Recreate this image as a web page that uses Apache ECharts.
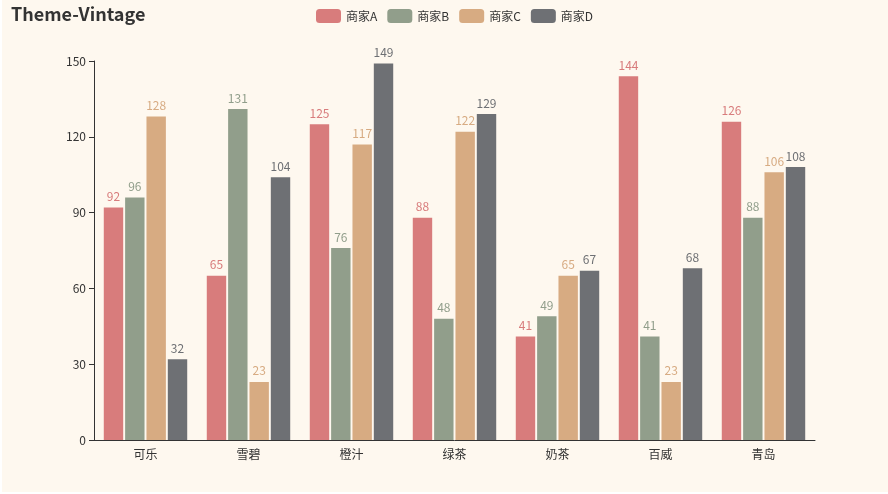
<!DOCTYPE html>
<html><head><meta charset="utf-8">
<script src="https://cdn.jsdelivr.net/npm/echarts@6/dist/echarts.min.js"></script>
<style>html,body{margin:0;padding:0;background:#fff;}#c{position:absolute;left:2px;top:0;width:886px;height:492px;}</style>
</head><body><div id="c"></div>
<script>
var categories = ['可乐','雪碧','橙汁','绿茶','奶茶','百威','青岛'];
var seriesNames = ['商家A','商家B','商家C','商家D'];
var valuesA = [92,65,125,88,41,144,126];
var valuesB = [96,131,76,48,49,41,88];
var valuesC = [128,23,117,122,65,23,106];
var valuesD = [32,104,149,129,67,68,108];
var colors = ['#d87c7c','#919e8b','#d7ab82','#6e7074'];
var allValues = [valuesA,valuesB,valuesC,valuesD];
var font = '"Noto Sans CJK SC","Noto Sans",sans-serif';
var chart = echarts.init(document.getElementById('c'));
chart.setOption({
  backgroundColor:'#fef8ef',
  color: colors,
  textStyle:{fontFamily:font},
  title:{text:'Theme-Vintage',left:4,top:0,textStyle:{fontSize:18,fontWeight:'bold',color:'#333',fontFamily:font}},
  legend:{data:seriesNames,left:309,top:4,itemWidth:25,itemHeight:14,itemGap:10,textStyle:{color:'#333',fontSize:12,fontFamily:font}},
  grid:{left:92,right:73,top:61,bottom:52},
  xAxis:{type:'category',data:categories,axisLine:{lineStyle:{color:'#333'}},axisTick:{lineStyle:{color:'#333'}},axisLabel:{color:'#333',fontSize:12,fontFamily:font}},
  yAxis:{type:'value',min:0,max:150,interval:30,splitLine:{show:false},axisLine:{show:true,lineStyle:{color:'#333'}},axisTick:{show:true,lineStyle:{color:'#333'}},axisLabel:{color:'#333',fontSize:12,fontFamily:font}},
  series: seriesNames.map(function(n,i){return {name:n,type:'bar',data:allValues[i],label:{show:true,position:'top',color:colors[i],fontSize:12,fontFamily:font}};})
});
</script></body></html>
